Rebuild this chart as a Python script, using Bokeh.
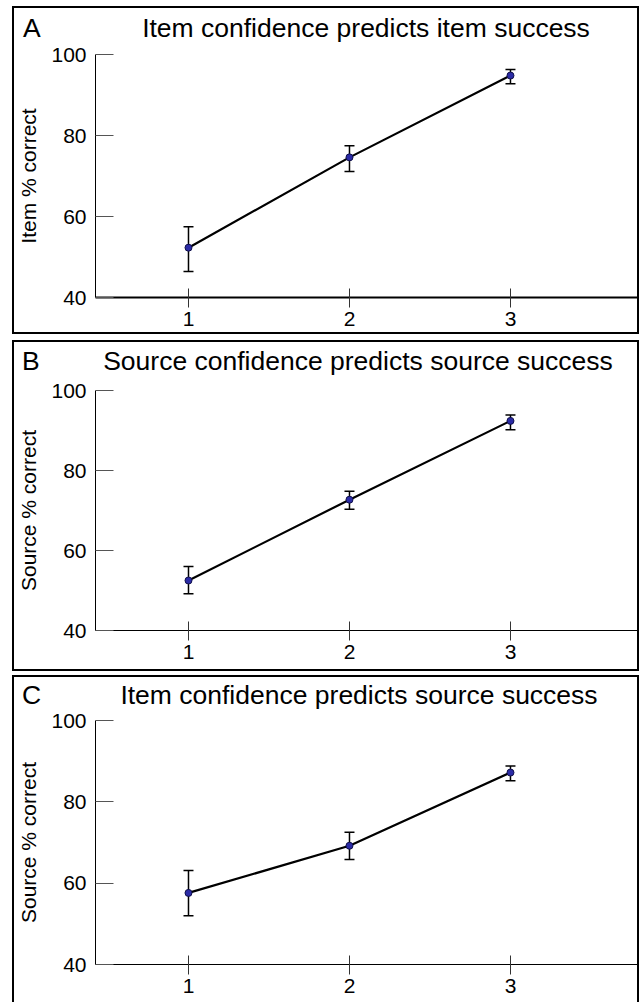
from bokeh.plotting import figure
from bokeh.layouts import column
from bokeh.models import ColumnDataSource, Whisker, TeeHead, Range1d, FixedTicker, Div
from bokeh.embed import file_html
from bokeh.resources import INLINE

FONT = "Liberation Sans"

confidence = [1, 2, 3]

item_conf_item_mean = [52.3, 74.6, 94.8]
item_conf_item_upper = [57.5, 77.5, 96.3]
item_conf_item_lower = [46.4, 71.1, 92.8]

source_conf_source_mean = [52.5, 72.7, 92.4]
source_conf_source_upper = [56.0, 74.8, 93.9]
source_conf_source_lower = [49.2, 70.3, 90.2]

item_conf_source_mean = [57.6, 69.2, 87.2]
item_conf_source_upper = [63.1, 72.5, 88.8]
item_conf_source_lower = [52.0, 65.8, 85.2]

y_ticks = [40, 60, 80, 100]

panels = [
    dict(letter="A", title="Item confidence predicts item success", ylabel="Item % correct",
         mean=item_conf_item_mean, upper=item_conf_item_upper, lower=item_conf_item_lower,
         head=36, pad=5, lx=9, tx=352, height=288, top=10, bottom=35,
         margin=(8, 2, 2, 14), xaxis_width=2),
    dict(letter="B", title="Source confidence predicts source success", ylabel="Source % correct",
         mean=source_conf_source_mean, upper=source_conf_source_upper, lower=source_conf_source_lower,
         head=36, pad=4, lx=8, tx=344, height=291, top=12, bottom=39,
         margin=(8, 2, 2, 14), xaxis_width=1),
    dict(letter="C", title="Item confidence predicts source success", ylabel="Source % correct",
         mean=item_conf_source_mean, upper=item_conf_source_upper, lower=item_conf_source_lower,
         head=32, pad=3, lx=8, tx=345, height=293, top=11, bottom=38,
         margin=(6, 2, 0, 14), xaxis_width=1),
]

blocks = []
for pd_ in panels:
    span_style = ("position:absolute; top:%dpx; white-space:nowrap; font-family:'Liberation Sans';"
                  " font-size:26.5px; line-height:normal; color:black;" % pd_["pad"])
    html = ('<div style="position:relative; width:623px; height:%dpx;">'
            '<span style="%s left:%dpx;">%s</span>'
            '<span style="%s left:%dpx; transform:translateX(-50%%);">%s</span>'
            '</div>') % (pd_["head"], span_style, pd_["lx"], pd_["letter"],
                         span_style, pd_["tx"], pd_["title"])
    header = Div(text=html, width=623, height=pd_["head"], margin=0)

    p = figure(width=623, height=pd_["height"], output_backend="svg", toolbar_location=None,
               x_range=Range1d(0.4224, 3.789), y_range=Range1d(40, 100),
               min_border_left=81, min_border_right=0, min_border_top=pd_["top"],
               min_border_bottom=pd_["bottom"], margin=0, title_location=None)
    p.outline_line_color = None
    p.grid.visible = False

    src = ColumnDataSource(dict(x=confidence, y=pd_["mean"], upper=pd_["upper"], lower=pd_["lower"]))
    w = Whisker(source=src, base="x", upper="upper", lower="lower",
                line_color="black", line_width=1.5,
                upper_head=TeeHead(size=10, line_color="black", line_width=1.5),
                lower_head=TeeHead(size=10, line_color="black", line_width=1.5))
    p.add_layout(w)
    p.line("x", "y", source=src, line_color="black", line_width=2.2)
    p.scatter("x", "y", source=src, size=7, fill_color="#2b2ba6", line_color="#10104a", line_width=1)

    xa = p.xaxis[0]
    xa.ticker = FixedTicker(ticks=confidence)
    xa.major_tick_in = 9
    xa.major_tick_out = 10
    xa.minor_tick_line_color = None
    xa.axis_line_width = pd_["xaxis_width"]
    xa.axis_line_color = "black"
    xa.major_tick_line_color = "#333333"
    xa.major_label_text_font = FONT
    xa.major_label_text_font_size = "21px"
    xa.major_label_text_color = "black"
    xa.major_label_standoff = 4

    ya = p.yaxis[0]
    ya.ticker = FixedTicker(ticks=y_ticks)
    ya.major_tick_in = 18
    ya.major_tick_out = 0
    ya.minor_tick_line_color = None
    ya.axis_line_color = "black"
    ya.major_tick_line_color = "#555555"
    ya.major_label_text_font = FONT
    ya.major_label_text_font_size = "21px"
    ya.major_label_text_color = "black"
    ya.major_label_standoff = 9
    ya.axis_label = pd_["ylabel"]
    ya.axis_label_text_font = FONT
    ya.axis_label_text_font_size = "21px"
    ya.axis_label_text_font_style = "normal"
    ya.axis_label_text_color = "black"
    ya.axis_label_standoff = 8

    block = column(header, p, spacing=0, margin=pd_["margin"],
                   styles={"outline": "2px solid black", "outline-offset": "0px"})
    blocks.append(block)

layout = column(*blocks, spacing=0)
open("out.html", "w").write(file_html(layout, INLINE))
